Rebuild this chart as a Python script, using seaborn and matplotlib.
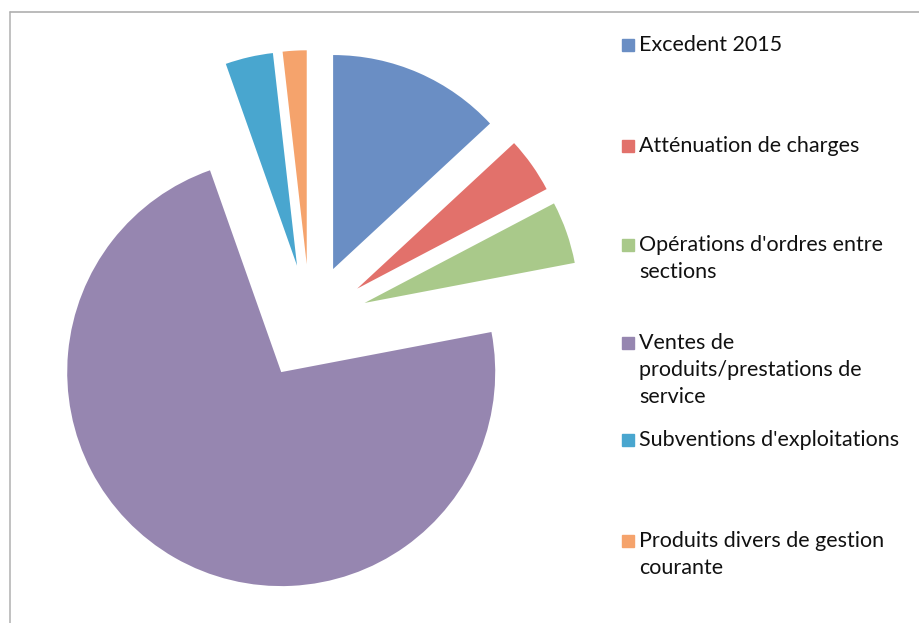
import matplotlib
matplotlib.use("Agg")
import matplotlib.pyplot as plt
from matplotlib.lines import Line2D
import seaborn as sns

sns.set_theme(style="white")
plt.rcParams["font.family"] = ["Lato", "DejaVu Sans"]

# Budget breakdown (share of the total, %)
categories = [
    "Excedent 2015",
    "Atténuation de charges",
    "Opérations d'ordres entre\nsections",
    "Ventes de\nproduits/prestations de\nservice",
    "Subventions d'exploitations",
    "Produits divers de gestion\ncourante",
]
shares = [13.1, 4.2, 4.7, 72.6, 3.6, 1.8]
colors = ["#6a8ec4", "#e2716b", "#a9c98a", "#9686b0", "#49a6cf", "#f5a36c"]

W, H = 920, 623
fig = plt.figure(figsize=(W / 100, H / 100), dpi=100)
fig.patch.set_facecolor("white")

# pie axes: left part of the figure, 1 data unit = 214 px
R = 214.0
cx, cy = 310.0, 322.0
ax_w = 600.0
ax = fig.add_axes([0, 0, ax_w / W, 1])
ax.pie(
    shares,
    colors=colors,
    startangle=90,
    counterclock=False,
    explode=[0.27] * len(shares),
    wedgeprops=dict(linewidth=0, edgecolor="none"),
)
ax.set_aspect("auto")
ax.set_xlim(-cx / R, (ax_w - cx) / R)
ax.set_ylim(-(H - cy) / R, cy / R)
ax.axis("off")

# legend on the right, one entry per category
entry_tops = [45, 146, 245, 343, 440, 541]
line_h = 27
for label, col, top in zip(categories, colors, entry_tops):
    fig.add_artist(Line2D([628 / W], [1 - top / H], marker="s", markersize=8.5,
                          color=col, linestyle="none"))
    for i, line in enumerate(label.split("\n")):
        fig.text(639 / W, 1 - (top + i * line_h) / H, line, fontsize=15.5,
                 color="#111111", va="center", ha="left")

# thin frame at the top and left edge
fig.add_artist(Line2D([10 / W, 1], [1 - 12 / H, 1 - 12 / H], color="#a8a8a8", lw=1.1))
fig.add_artist(Line2D([10 / W, 10 / W], [1 - 12 / H, 0], color="#b0b0b0", lw=1.1))

fig.savefig("out.png", dpi=100, facecolor="white")
